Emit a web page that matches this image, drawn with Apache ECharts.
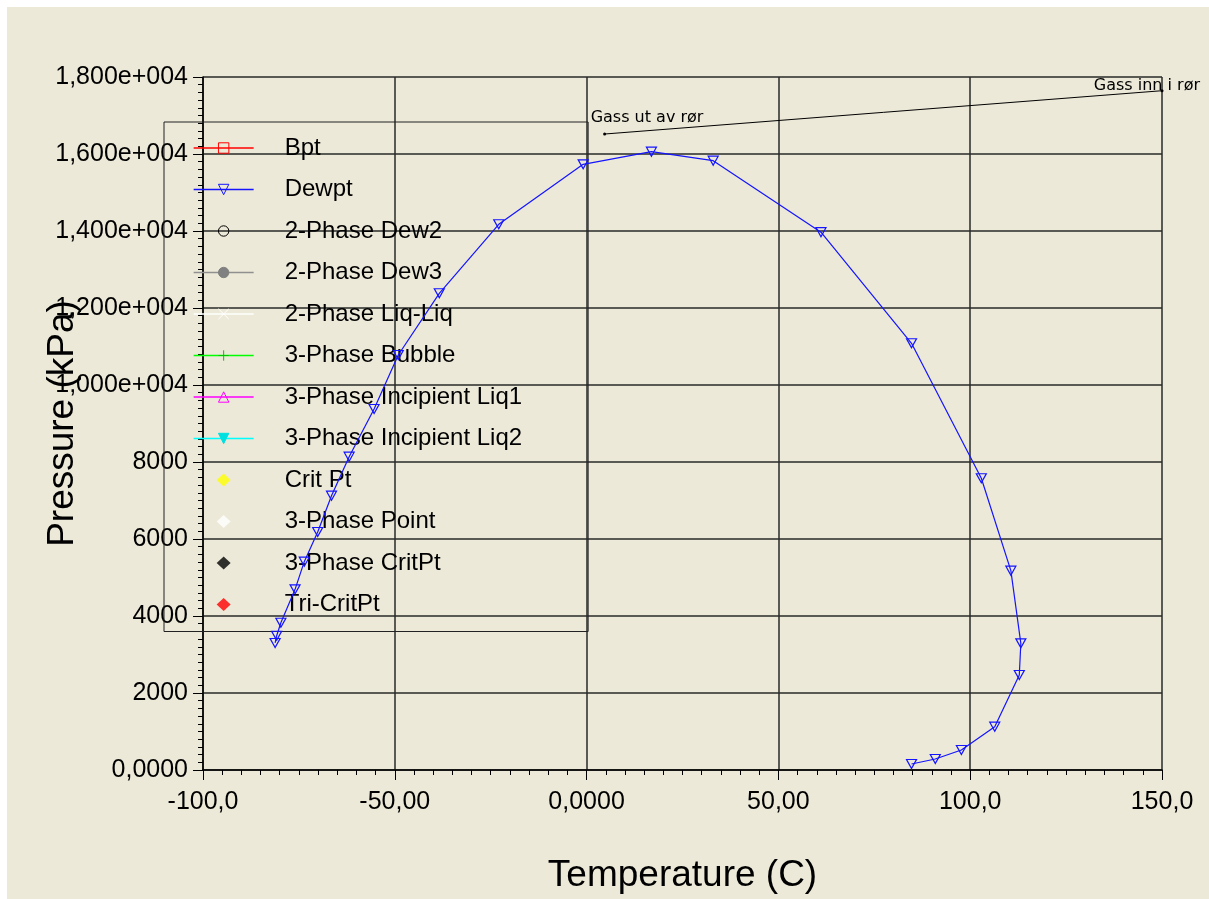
<!DOCTYPE html>
<html>
<head>
<meta charset="utf-8">
<script src="https://cdn.jsdelivr.net/npm/echarts@6/dist/echarts.min.js"></script>
<style>
  html, body { margin: 0; padding: 0; background: #ffffff; }
  #bg { position: absolute; left: 7px; top: 7px; width: 1202px; height: 892px; background: #ece9d8; }
  #main { position: absolute; left: 0; top: 0; width: 1209px; height: 899px; }
</style>
</head>
<body>
<div id="bg"></div>
<div id="main"></div>
<script>
// dew point curve (temperature C, pressure kPa)
var dewTemp = [-81.2, -80.8, -79.7, -76.0, -73.6, -70.1, -66.5, -61.9, -55.4, -49.1, -38.4, -22.9, -0.9,
               16.9, 33.0, 61.1, 84.7, 102.9, 110.6, 113.2, 112.8, 106.4, 97.7, 90.9, 84.7];
var dewPres = [3299, 3488, 3826, 4693, 5411, 6182, 7125, 8138, 9377, 10779, 12382, 14174, 15732,
               16060, 15827, 13970, 11083, 7577, 5177, 3290, 2468, 1125, 519, 286, 156];

// pipe line: out -> in
var pipeTemp = [4.7, 150];
var pipePres = [16519, 17644];
var pipeNames = ['Gass ut av rør', 'Gass inn i rør'];

var xTickValues = [-100, -50, 0, 50, 100, 150];
var xTickLabels = ['-100,0', '-50,00', '0,0000', '50,00', '100,0', '150,0'];
var yTickValues = [0, 2000, 4000, 6000, 8000, 10000, 12000, 14000, 16000, 18000];
var yTickLabels = ['0,0000', '2000', '4000', '6000', '8000', '1,000e+004', '1,200e+004', '1,400e+004', '1,600e+004', '1,800e+004'];

var myChart = echarts.init(document.getElementById('main'));

var font = "'Liberation Sans', Arial, sans-serif";
var gridColor = '#2a2a2a';
var blue = '#1414ff';
var clear = 'rgba(0,0,0,0)';
// diamond icon padded to the legend item box (60 x 13)
var diamondIcon = 'path://M0,6.5L0,6.5M60,6.5L60,6.5M30,0L37,6.5L30,13L23,6.5Z';

function pairs(xs, ys) {
    return xs.map(function (x, i) { return [x, ys[i]]; });
}

// series that only show up in the legend
function legendLine(name, lineColor, symbol, fill, stroke, rotate) {
    return {
        name: name,
        type: 'line',
        data: [],
        symbol: symbol,
        symbolRotate: rotate || 0,
        lineStyle: { color: lineColor, width: 1 },
        itemStyle: { color: fill, borderColor: stroke, borderWidth: 1 }
    };
}
function legendPoint(name, color) {
    return {
        name: name,
        type: 'scatter',
        data: [],
        symbol: 'diamond',
        itemStyle: { color: color }
    };
}
function legendItem(name, lineColor, fill, stroke) {
    return {
        name: name,
        lineStyle: { color: lineColor, width: 1.3 },
        itemStyle: { color: fill, borderColor: stroke, borderWidth: 1 }
    };
}
function diamondItem(name, color) {
    return { name: name, icon: diamondIcon, itemStyle: { color: color, borderWidth: 0 } };
}

var pipeData = pairs(pipeTemp, pipePres).map(function (p, i) {
    return {
        value: p,
        label: i === 0
            ? { show: true, formatter: pipeNames[0], position: 'top', align: 'left', offset: [-14, -2] }
            : { show: true, formatter: pipeNames[1], position: 'top', align: 'right', offset: [38, 10] }
    };
});

option = {
    animation: false,
    textStyle: { fontFamily: font },
    grid: { left: 203, top: 77, width: 959, height: 693 },
    xAxis: {
        type: 'value',
        min: -100,
        max: 150,
        interval: 50,
        name: 'Temperature (C)',
        nameLocation: 'middle',
        nameGap: 87,
        nameMoveOverlap: false,
        nameTextStyle: { fontSize: 37, color: '#000', fontFamily: font },
        axisLine: { onZero: false, lineStyle: { color: '#000', width: 1.5 } },
        axisTick: { show: true, length: 10, lineStyle: { color: '#000', width: 1 } },
        minorTick: { show: true, splitNumber: 10, length: 5, lineStyle: { color: '#000', width: 1 } },
        axisLabel: {
            margin: 20,
            fontSize: 25,
            color: '#000',
            fontFamily: font,
            formatter: function (v) { return xTickLabels[xTickValues.indexOf(v)]; }
        },
        splitLine: { show: true, lineStyle: { color: gridColor, width: 1.5 } }
    },
    yAxis: {
        type: 'value',
        min: 0,
        max: 18000,
        interval: 2000,
        name: 'Pressure (kPa)',
        nameLocation: 'middle',
        nameGap: 122,
        nameMoveOverlap: false,
        nameTextStyle: { fontSize: 37, color: '#000', fontFamily: font, backgroundColor: '#ece9d8' },
        axisLine: { show: true, onZero: false, lineStyle: { color: '#000', width: 1.5 } },
        axisTick: { show: true, length: 10, lineStyle: { color: '#000', width: 1 } },
        minorTick: { show: true, splitNumber: 10, length: 5, lineStyle: { color: '#000', width: 1 } },
        axisLabel: {
            margin: 15,
            fontSize: 25,
            color: '#000',
            fontFamily: font,
            formatter: function (v) { return yTickLabels[yTickValues.indexOf(v)]; }
        },
        splitLine: { show: true, lineStyle: { color: gridColor, width: 1.5 } }
    },
    legend: {
        orient: 'vertical',
        left: 164,
        top: 122,
        padding: [14, 66, 15, 29],
        itemWidth: 60,
        itemHeight: 13,
        itemGap: 17.5,
        selectedMode: false,
        borderColor: '#222',
        borderWidth: 1,
        textStyle: { fontSize: 24, color: '#000', fontFamily: font, padding: [0, 0, 0, 26] },
        data: [
            legendItem('Bpt', '#ff0000', clear, '#ff0000'),
            legendItem('Dewpt', blue, clear, blue),
            legendItem('2-Phase Dew2', clear, clear, '#000000'),
            legendItem('2-Phase Dew3', '#909090', '#808080', '#808080'),
            legendItem('2-Phase Liq-Liq', '#ffffff', clear, '#ffffff'),
            legendItem('3-Phase Bubble', '#00ff00', clear, '#00c800'),
            legendItem('3-Phase Incipient Liq1', '#ff00ff', clear, '#ff00ff'),
            legendItem('3-Phase Incipient Liq2', '#00ffff', '#00e0e0', '#00e0e0'),
            diamondItem('Crit Pt', '#ffff00'),
            diamondItem('3-Phase Point', '#ffffff'),
            diamondItem('3-Phase CritPt', '#000000'),
            diamondItem('Tri-CritPt', '#ff0000')
        ]
    },
    series: [
        legendLine('Bpt', '#ff0000', 'rect', clear, '#ff0000'),
        {
            name: 'Dewpt',
            type: 'line',
            data: pairs(dewTemp, dewPres),
            symbol: 'triangle',
            symbolRotate: 180,
            symbolSize: [10, 9],
            lineStyle: { color: blue, width: 1.2 },
            itemStyle: { color: clear, borderColor: blue, borderWidth: 1.2 },
            z: 5
        },
        legendLine('2-Phase Dew2', clear, 'circle', clear, '#000000'),
        legendLine('2-Phase Dew3', '#909090', 'circle', '#808080', '#808080'),
        legendLine('2-Phase Liq-Liq', '#ffffff', 'path://M0,0L10,10M10,0L0,10', clear, '#ffffff'),
        legendLine('3-Phase Bubble', '#00ff00', 'path://M5,0L5,10M0,5L10,5', clear, '#00c800'),
        legendLine('3-Phase Incipient Liq1', '#ff00ff', 'triangle', clear, '#ff00ff'),
        legendLine('3-Phase Incipient Liq2', '#00ffff', 'triangle', '#00e0e0', '#00e0e0', 180),
        legendPoint('Crit Pt', '#ffff00'),
        legendPoint('3-Phase Point', '#ffffff'),
        legendPoint('3-Phase CritPt', '#000000'),
        legendPoint('Tri-CritPt', '#ff0000'),
        {
            name: 'Gass',
            type: 'line',
            data: pipeData,
            symbol: 'circle',
            symbolSize: 3,
            lineStyle: { color: '#000', width: 1 },
            itemStyle: { color: '#000' },
            label: { fontSize: 16, color: '#000', fontFamily: "'DejaVu Sans', sans-serif" },
            z: 6
        }
    ]
};

myChart.setOption(option);
</script>
</body>
</html>
